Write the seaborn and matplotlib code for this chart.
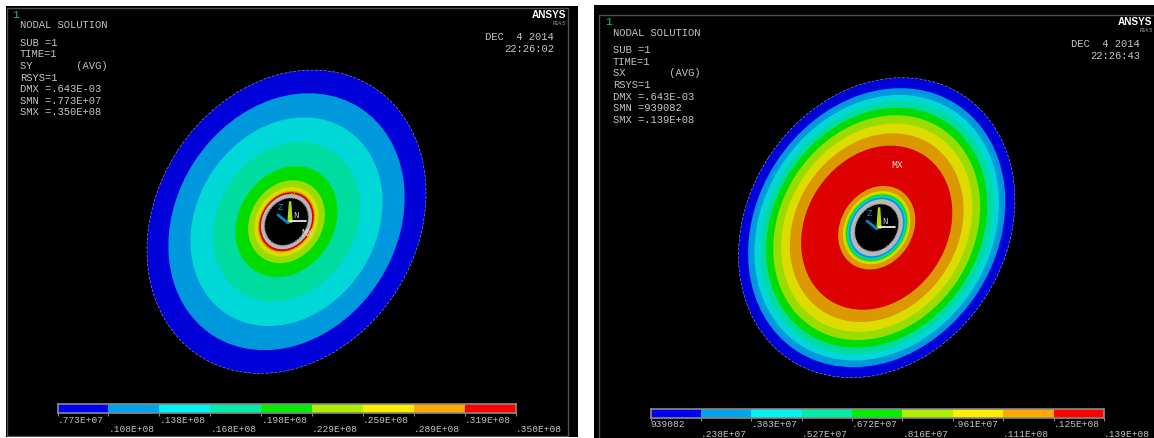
import numpy as np
import matplotlib
matplotlib.use("Agg")
import matplotlib.pyplot as plt
from matplotlib.colors import ListedColormap
from matplotlib.patches import Ellipse, Rectangle
import seaborn as sns

W, H = 1154, 438

legend_colors = ["#0000f4", "#00a4ee", "#00f4f4", "#00eeaa", "#00ee00",
                 "#b0ee00", "#ffee00", "#ffaa00", "#ff0000"]
plate_colors = ["#0000d8", "#0098dc", "#00d8d8", "#00dca0", "#00dc00",
                "#98dc00", "#dcdc00", "#dc9800", "#dc0000"]

# left panel: SY
left_info = ["SUB =1", "TIME=1", "SY       (AVG)", "RSYS=1",
             "DMX =.643E-03", "SMN =.773E+07", "SMX =.350E+08"]
left_ticks = [".773E+07", ".108E+08", ".138E+08", ".168E+08", ".198E+08",
              ".229E+08", ".259E+08", ".289E+08", ".319E+08", ".350E+08"]
left_a = [160, 135.5, 110, 84, 58.5, 43.5, 36.5, 32.5, 31]
left_b = [130, 110, 89.5, 68.5, 47.5, 36, 30, 26.5, 25.5]
left_col = [0, 1, 2, 3, 4, 5, 6, 7, 8]

# right panel: SX
right_info = ["SUB =1", "TIME=1", "SX       (AVG)", "RSYS=1",
              "DMX =.643E-03", "SMN =939082", "SMX =.139E+08"]
right_ticks = ["939082", ".238E+07", ".383E+07", ".527E+07", ".672E+07",
               ".816E+07", ".961E+07", ".111E+08", ".125E+08", ".139E+08"]
right_a = [158, 147, 140, 133.5, 126.5, 118.5, 110, 99.5, 86.5,
           44, 38.5, 36.5, 35, 34, 33, 32]
right_b = [129, 120, 114, 108.5, 103, 96.5, 89, 81, 70.5,
           36, 31.5, 29.7, 28.5, 27.7, 26.8, 26]
right_col = [0, 1, 2, 3, 4, 5, 6, 7, 8, 7, 6, 5, 4, 3, 2, 1]

sns.set_theme(style="white")
plt.rcParams["font.family"] = ["Liberation Mono", "DejaVu Sans Mono"]
plt.rcParams["axes.grid"] = False
fig = plt.figure(figsize=(W / 100, H / 100), dpi=100, facecolor="white")
TXT = "#c4c4c4"


def panel(x0, y0, x1, y1, frame):
    ax = fig.add_axes([x0 / W, 1 - y1 / H, (x1 - x0) / W, (y1 - y0) / H])
    ax.set_xlim(x0, x1)
    ax.set_ylim(y1, y0)
    ax.set_facecolor("black")
    ax.set_xticks([])
    ax.set_yticks([])
    for s in ax.spines.values():
        s.set_visible(False)
    ax.add_patch(Rectangle((frame[0], frame[1]), frame[2] - frame[0], frame[3] - frame[1],
                           fc="none", ec="#505050", lw=1))
    return ax


def draw_plate(ax, cx, cy, a_list, b_list, cols, ring, hole, angle=-57):
    for i, (a, b, c) in enumerate(zip(a_list, b_list, cols)):
        ax.add_patch(Ellipse((cx, cy), 2 * a, 2 * b, angle=angle, fc=plate_colors[c],
                             ec="#b8b8d8" if i == 0 else "none", lw=0.35,
                             ls=(0, (6, 3)) if i == 0 else "-"))
    ax.add_patch(Ellipse((cx, cy), 2 * ring[0], 2 * ring[1], angle=angle, fc="#b8b8b8", ec="none"))
    ax.add_patch(Ellipse((cx, cy), 2 * hole[0], 2 * hole[1], angle=angle, fc="black",
                         ec="#8a8a8a", lw=0.9, ls=(0, (1, 1))))


def draw_triad(ax, x, y):
    ax.fill([x, x + 4, x + 2.6, x + 1.6], [y - 1, y - 1, y - 21, y - 21], color="#b0e000")
    ax.plot([x + 2, x + 18], [y - 2, y - 2], color="white", lw=1.2)
    ax.plot([x, x - 10], [y, y - 8], color="#0088cc", lw=2)
    ax.text(x + 8, y - 7, "N", color="#cccccc", fontsize=6.5, ha="center", va="center")
    ax.text(x - 8, y - 15, "Z", color="#0099cc", fontsize=6.5, ha="center", va="center")
    ax.text(x + 5, y - 26, "Y", color="#b0e000", fontsize=5, ha="center", va="center")


def draw_text(ax, x, y, num, info, date, time, ansys_x, date_x):
    ax.text(x - 8, y - 11, num, color="#00c8a0", fontsize=8, ha="left", va="center")
    ax.text(x, y, "NODAL SOLUTION", color=TXT, fontsize=7.6, va="center")
    for i, line in enumerate(info):
        ax.text(x, y + 17.3 + i * 11.6, line, color=TXT, fontsize=7.6, va="center")
    ax.text(ansys_x, y - 11, "ANSYS", color="white", fontsize=7.2, fontweight="bold",
            ha="right", va="center", family="Liberation Sans")
    ax.text(ansys_x, y - 2, "R14.5", color="#aaaaaa", fontsize=3.5, ha="right", va="center",
            family="Liberation Sans")
    ax.text(date_x, y + 11, date, color=TXT, fontsize=7.6, ha="right", va="center")
    ax.text(date_x, y + 23, time, color=TXT, fontsize=7.6, ha="right", va="center")


def draw_legend(x0, y0, x1, y1, ticks):
    ax = fig.add_axes([x0 / W, 1 - y1 / H, (x1 - x0) / W, (y1 - y0) / H])
    sns.heatmap(np.arange(9).reshape(1, 9), ax=ax, cmap=ListedColormap(legend_colors),
                cbar=False, yticklabels=False, linewidths=0)
    for s in ax.spines.values():
        s.set_visible(True)
        s.set_color("#8a8a8a")
        s.set_linewidth(1.2)
    ax.set_xticks(np.arange(10))
    ax.set_xticklabels(ticks, rotation=0, ha="left", color=TXT, fontsize=6.8)
    ax.tick_params(axis="x", length=2, width=0.8, color="#8a8a8a", bottom=True)
    for i, t in enumerate(ax.xaxis.get_major_ticks()):
        t.set_pad(6.5 if i % 2 else 0)
    ax.set_xlabel("")


left = panel(6, 6, 578, 437, (7, 8, 568, 436))
draw_plate(left, 286.5, 221.7, left_a, left_b, left_col, (29, 24), (25, 20.5))
draw_triad(left, 288, 223)
draw_text(left, 20, 25.5, "1", left_info, "DEC  4 2014", "22:26:02", 566, 554)
left.text(307, 233, "MX", color="#e0e0e0", fontsize=7, ha="center", va="center")

right = panel(594, 5, 1154, 438, (599, 15, 1160, 445))
draw_plate(right, 876.7, 227.7, right_a, right_b, right_col, (30, 24.5), (25, 20.5))
draw_triad(right, 877, 229)
draw_text(right, 612.7, 33, "1", right_info, "DEC  4 2014", "22:26:43", 1152.7, 1140)
right.text(897, 164.7, "MX", color="#f0d8d8", fontsize=7, ha="center", va="center")

draw_legend(57.5, 404.3, 516, 413.3, left_ticks)
draw_legend(650.5, 408.5, 1104, 417.7, right_ticks)

fig.savefig("out.png", dpi=100, facecolor="white")
